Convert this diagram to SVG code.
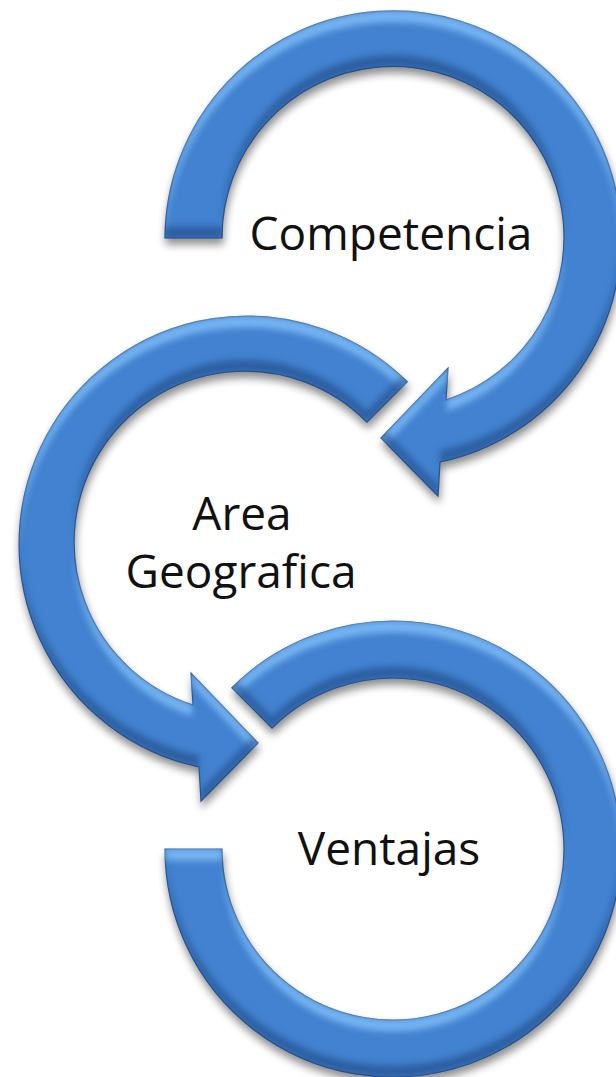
<svg xmlns="http://www.w3.org/2000/svg" width="616" height="1077" viewBox="0 0 616 1077">
  <style>
    .ring { fill: #4282d0; stroke: #2a5593; stroke-width: 1.2; stroke-linejoin: miter; filter: url(#bevel); }
    .label { font-family: "Open Sans", "Noto Sans", "DejaVu Sans", sans-serif; font-size: 46px; fill: #111; text-anchor: middle; }
  </style>
  <defs>
    <!-- soft drop shadow plus a top-lit bevel: bright upward-facing edges, dark downward-facing edges -->
    <filter id="bevel" x="-6%" y="-6%" width="114%" height="116%" color-interpolation-filters="sRGB">
      <feGaussianBlur in="SourceAlpha" stdDeviation="4.5" result="blur"/>
      <feOffset in="blur" dx="1" dy="6" result="offset"/>
      <feComponentTransfer in="offset" result="shadow">
        <feFuncA type="linear" slope="0.45"/>
      </feComponentTransfer>

      <feOffset in="SourceAlpha" dy="12" result="down"/>
      <feComposite in="SourceAlpha" in2="down" operator="out" result="upper"/>
      <feGaussianBlur in="upper" stdDeviation="3" result="upperSoft"/>
      <feFlood flood-color="#8ccaff" flood-opacity="0.7"/>
      <feComposite in2="upperSoft" operator="in"/>
      <feComposite in2="SourceAlpha" operator="in" result="hi"/>

      <feOffset in="SourceAlpha" dy="-12" result="up"/>
      <feComposite in="SourceAlpha" in2="up" operator="out" result="lower"/>
      <feGaussianBlur in="lower" stdDeviation="3" result="lowerSoft"/>
      <feFlood flood-color="#1c427a" flood-opacity="0.55"/>
      <feComposite in2="lowerSoft" operator="in"/>
      <feComposite in2="SourceAlpha" operator="in" result="lo"/>

      <feMerge>
        <feMergeNode in="shadow"/>
        <feMergeNode in="SourceGraphic"/>
        <feMergeNode in="hi"/>
        <feMergeNode in="lo"/>
      </feMerge>
    </filter>
  </defs>

  <rect width="616" height="1077" fill="#ffffff"/>

  <!-- step 1: clockwise ring, centre (393,238), arrowhead at the bottom -->
  <g id="node-competencia">
    <path class="ring" d="M165,238 A228,228 0 1 1 440,462 L438,496 L381,438 L448,368 L446,400 A171,171 0 1 0 222,238 Z"/>
    <text class="label" x="391" y="250">Competencia</text>
  </g>

  <!-- step 2: counter-clockwise ring, centre (246,543), arrowhead at the bottom -->
  <g id="node-area-geografica">
    <path class="ring" d="M407.2,381.8 A228,228 0 1 0 199,767 L201,801 L258,743 L191,673 L193,705 A171,171 0 1 1 366.9,422.1 Z"/>
    <text class="label" x="242" y="530">Area</text>
    <text class="label" x="241" y="588">Geografica</text>
  </g>

  <!-- step 3: open ring without arrowhead, centre (393,849) -->
  <g id="node-ventajas">
    <path class="ring" d="M165,849 A228,228 0 1 0 231.8,687.8 L272.1,728.1 A171,171 0 1 1 222,849 Z"/>
    <text class="label" x="389" y="865">Ventajas</text>
  </g>

  <g id="connectors"/>
</svg>
